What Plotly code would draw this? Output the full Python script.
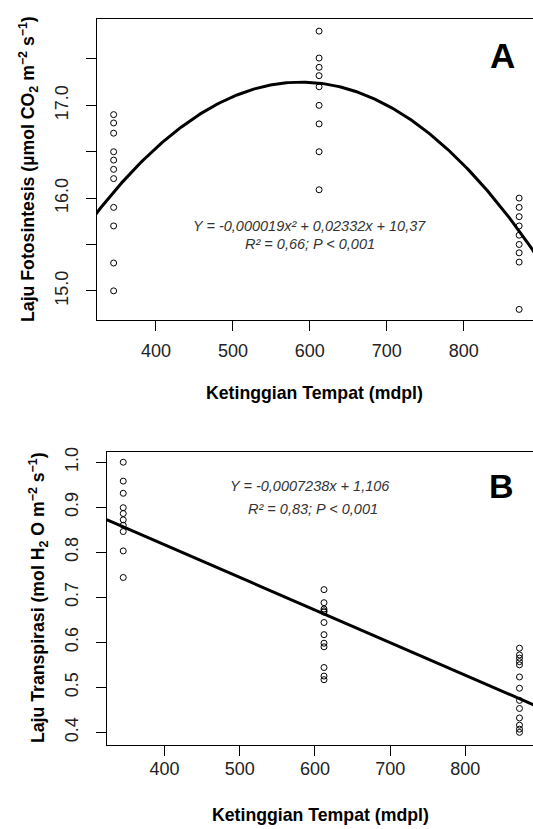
import numpy as np
import plotly.graph_objects as go

# ---------------- data ----------------
elev_a = [345, 612, 872]
photo_345 = [16.90, 16.81, 16.70, 16.50, 16.41, 16.31, 16.21, 15.90, 15.70, 15.30, 15.00]
photo_612 = [17.80, 17.51, 17.41, 17.32, 17.20, 17.00, 16.80, 16.50, 16.09]
photo_872 = [16.00, 15.90, 15.80, 15.70, 15.60, 15.50, 15.41, 15.31, 14.80]

trans_345 = [1.000, 0.958, 0.931, 0.899, 0.886, 0.872, 0.860, 0.846, 0.803, 0.744]
trans_612 = [0.717, 0.688, 0.674, 0.670, 0.667, 0.644, 0.617, 0.598, 0.590, 0.544, 0.525, 0.517]
trans_872 = [0.587, 0.572, 0.565, 0.557, 0.550, 0.523, 0.498, 0.471, 0.453, 0.432, 0.416, 0.407, 0.400]

# fitted curve of panel A
curveA_x = [323, 340, 586, 717, 873, 890]
curveA_y = [15.83, 16.03, 17.24, 16.93, 15.65, 15.42]
# fitted line of panel B (from its printed equation)
lineB_slope = -0.0007238
lineB_intercept = 1.106

x_ticks = [400, 500, 600, 700, 800]
ya_ticks = [15.0, 16.0, 17.0]
ya_text = ["15.0", "16.0", "17.0"]
ya_minor = [15.5, 16.5, 17.5]
yb_ticks = [0.4, 0.5, 0.6, 0.7, 0.8, 0.9, 1.0]
yb_text = ["0.4", "0.5", "0.6", "0.7", "0.8", "0.9", "1.0"]

eqA_1 = "Y = -0,000019x² + 0,02332x + 10,37"
eqA_2 = "R² = 0,66; P < 0,001"
eqB_1 = "Y = -0,0007238x + 1,106"
eqB_2 = "R² = 0,83; P < 0,001"

# ---------------- figure ----------------
W, H = 533, 829
FONT = "Liberation Sans, Arial, sans-serif"
fig = go.Figure()

marker = dict(symbol="circle-open", size=6, color="black", line=dict(width=1, color="black"))

# panel A points
for e, v in zip(elev_a, [photo_345, photo_612, photo_872]):
    fig.add_trace(go.Scatter(x=[e] * len(v), y=v, mode="markers", marker=marker,
                             xaxis="x", yaxis="y", showlegend=False, hoverinfo="skip"))

coef = np.polyfit(curveA_x, curveA_y, 2)
cx = np.linspace(300, 920, 300)
fig.add_trace(go.Scatter(x=cx, y=np.polyval(coef, cx), mode="lines",
                         line=dict(color="black", width=3), xaxis="x", yaxis="y",
                         showlegend=False, hoverinfo="skip"))

# panel B points
for e, v in zip(elev_a, [trans_345, trans_612, trans_872]):
    fig.add_trace(go.Scatter(x=[e] * len(v), y=v, mode="markers", marker=marker,
                             xaxis="x2", yaxis="y2", showlegend=False, hoverinfo="skip"))

lx = np.array([300.0, 920.0])
fig.add_trace(go.Scatter(x=lx, y=lineB_intercept + lineB_slope * lx, mode="lines",
                         line=dict(color="black", width=3), xaxis="x2", yaxis="y2",
                         showlegend=False, hoverinfo="skip"))

axis_common = dict(showgrid=False, zeroline=False, showline=True, linecolor="black",
                   linewidth=1.2, ticks="outside", ticklen=10, tickwidth=1.2,
                   tickcolor="black", tickfont=dict(family=FONT, size=18, color="#222"))

fig.update_layout(
    width=W, height=H, margin=dict(l=0, r=0, t=0, b=0),
    paper_bgcolor="white", plot_bgcolor="white", showlegend=False,
    xaxis=dict(domain=[96.7 / W, 1.0], range=[323, 890], anchor="y", mirror=True,
               tickvals=x_ticks, ticklabelstandoff=5, **axis_common),
    yaxis=dict(domain=[1 - 316.7 / H, 1 - 14 / H], range=[14.688, 17.932], anchor="x",
               tickvals=ya_ticks, ticktext=ya_text, tickangle=-90,
               minor=dict(tickvals=ya_minor, ticks="outside", ticklen=10, tickwidth=1.2,
                          tickcolor="black", showgrid=False),
               ticklabelstandoff=10, **axis_common),
    xaxis2=dict(domain=[106.7 / W, 1.0], range=[323, 890], anchor="y2", mirror=True,
                tickvals=x_ticks, ticklabelstandoff=-2, **axis_common),
    yaxis2=dict(domain=[1 - 744 / H, 1 - 449.3 / H], range=[0.373, 1.0236], anchor="x2",
                tickvals=yb_ticks, ticktext=yb_text, tickangle=-90,
                ticklabelstandoff=10, **axis_common),
)

title_font = dict(family=FONT, size=17.7, color="black")
ann = []
ann.append(dict(text="<b>Laju Fotosintesis (µmol CO<sub>2</sub> m<sup>−2</sup> s<sup>−1</sup>)</b>",
                x=28 / W, y=1 - 165 / H, xref="paper", yref="paper", textangle=-90,
                xanchor="center", yanchor="middle", showarrow=False, font=title_font))
ann.append(dict(text="<b>Laju Transpirasi (mol H<sub>2</sub> O m<sup>−2</sup> s<sup>−1</sup>)</b>",
                x=38 / W, y=1 - 596.7 / H, xref="paper", yref="paper", textangle=-90,
                xanchor="center", yanchor="middle", showarrow=False, font=title_font))
ann.append(dict(text="<b>Ketinggian Tempat (mdpl)</b>", x=314 / W, y=1 - 390 / H,
                xref="paper", yref="paper", xanchor="center", yanchor="middle",
                showarrow=False, font=title_font))
ann.append(dict(text="<b>Ketinggian Tempat (mdpl)</b>", x=320 / W, y=1 - 815 / H,
                xref="paper", yref="paper", xanchor="center", yanchor="middle",
                showarrow=False, font=title_font))
ann.append(dict(text="<b>A</b>", x=502.5 / W, y=1 - 51 / H, xref="paper", yref="paper",
                xanchor="center", yanchor="middle", showarrow=False,
                font=dict(family=FONT, size=35, color="black")))
ann.append(dict(text="<b>B</b>", x=501 / W, y=1 - 484 / H, xref="paper", yref="paper",
                xanchor="center", yanchor="middle", showarrow=False,
                font=dict(family=FONT, size=34, color="black")))
eq_font = dict(family=FONT, size=14.5, color="#333")
ann.append(dict(text="<i>" + eqA_1 + "</i>", x=600, y=15.70, xref="x", yref="y",
                xanchor="center", yanchor="middle", showarrow=False, font=eq_font))
ann.append(dict(text="<i>" + eqA_2 + "</i>", x=600, y=15.50, xref="x", yref="y",
                xanchor="center", yanchor="middle", showarrow=False, font=eq_font))
ann.append(dict(text="<i>" + eqB_1 + "</i>", x=310 / W, y=1 - 484 / H, xref="paper", yref="paper",
                xanchor="center", yanchor="middle", showarrow=False, font=eq_font))
ann.append(dict(text="<i>" + eqB_2 + "</i>", x=313 / W, y=1 - 506.7 / H, xref="paper", yref="paper",
                xanchor="center", yanchor="middle", showarrow=False, font=eq_font))
fig.update_layout(annotations=ann)

fig.write_html("out.html")
